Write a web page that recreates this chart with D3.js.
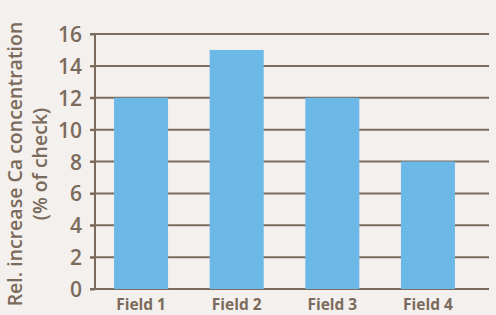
<!DOCTYPE html>
<html><head><meta charset="utf-8">
<script src="https://cdn.jsdelivr.net/npm/d3@7"></script>
<style>html,body{margin:0;padding:0;background:#f4f0ed;}svg{display:block;}</style>
</head><body>
<script>
const categories = ["Field 1", "Field 2", "Field 3", "Field 4"];
const values = [12, 15, 12, 8];
const yTicks = [0, 2, 4, 6, 8, 10, 12, 14, 16];
const yTitle = ["Rel. increase Ca concentration", "(% of check)"];

const W = 496, H = 315;
const axisColor = "#7b6b5c";
const barColor = "#6cb9e7";
const svg = d3.select("body").append("svg").attr("width", W).attr("height", H);
svg.append("rect").attr("width", W).attr("height", H).attr("fill", "#f4f0ed");

const y = d3.scaleLinear().domain([0, 16]).range([289, 34]);
const x = d3.scaleBand().domain(categories).range([93, 476]).paddingInner(0.435).paddingOuter(0.22);

// gridlines
svg.append("g").selectAll("line").data(yTicks).join("line")
  .attr("x1", 90).attr("x2", 489)
  .attr("y1", d => y(d)).attr("y2", d => y(d))
  .attr("stroke", axisColor).attr("stroke-width", 2);

// bars
svg.append("g").selectAll("rect").data(values).join("rect")
  .attr("x", (d, i) => x(categories[i]))
  .attr("width", x.bandwidth())
  .attr("y", d => y(d))
  .attr("height", d => y(0) - y(d))
  .attr("fill", barColor);

// y axis
const yAxis = d3.axisLeft(y).tickValues(yTicks).tickSize(5).tickPadding(8);
const gy = svg.append("g").attr("transform", "translate(95,0)").call(yAxis);
gy.select(".domain").attr("stroke", axisColor).attr("stroke-width", 2).attr("d", `M0,${y(16)}V${y(0)+1}`);
gy.selectAll(".tick line").attr("stroke", axisColor).attr("stroke-width", 2);
gy.selectAll(".tick text").attr("fill", axisColor)
  .style("font-family", "'Open Sans', sans-serif").style("font-size", "21px").style("font-weight", 600)
  .attr("dy", "0.36em");

// x axis
const xAxis = d3.axisBottom(x).tickSize(0).tickPadding(10);
const gx = svg.append("g").attr("transform", "translate(0,289)").call(xAxis);
gx.select(".domain").remove();
gx.selectAll(".tick text").attr("fill", axisColor)
  .style("font-family", "'Open Sans', sans-serif").style("font-size", "15.5px").style("font-weight", 700);

// y title
const t = svg.append("text").attr("transform", "translate(0,164) rotate(-90)")
  .attr("text-anchor", "middle").attr("fill", axisColor)
  .style("font-family", "'Open Sans', sans-serif").style("font-size", "19.5px").style("font-weight", 600);
t.append("tspan").attr("x", 0).attr("y", 22).text(yTitle[0]);
t.append("tspan").attr("x", 0).attr("y", 47).text(yTitle[1]);
</script>
</body></html>
